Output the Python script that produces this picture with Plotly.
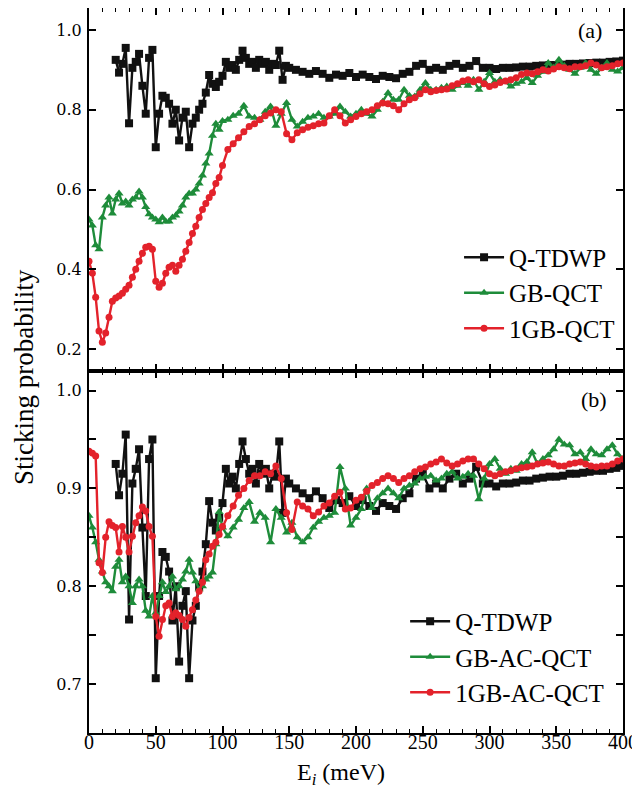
import numpy as np
import plotly.graph_objects as go

# ---------------- data ----------------
# Q-TDWP energies (meV): 20..150 step 2.5, then 155..400 step 5
E_q = list(np.arange(20, 150.01, 2.5)) + list(np.arange(155, 400.01, 5))
qtdwp = [0.925, 0.893, 0.915, 0.955, 0.766, 0.905, 0.92, 0.94, 0.86, 0.79,
         0.93, 0.95, 0.706, 0.79, 0.835, 0.83, 0.815, 0.765, 0.80, 0.723,
         0.78, 0.795, 0.706, 0.765, 0.78, 0.80, 0.815, 0.843, 0.887, 0.865,
         0.857, 0.87, 0.885, 0.92, 0.905, 0.912, 0.90, 0.925, 0.948, 0.93,
         0.915, 0.92, 0.905, 0.925, 0.915, 0.92, 0.90, 0.915, 0.912, 0.948,
         0.875, 0.91, 0.905,
         0.90, 0.895, 0.89, 0.897, 0.89, 0.88, 0.888, 0.885, 0.892, 0.882,
         0.888, 0.882, 0.877, 0.885, 0.882, 0.879, 0.89, 0.895, 0.91, 0.915,
         0.90, 0.905, 0.90, 0.91, 0.915, 0.905, 0.91, 0.922, 0.905, 0.905,
         0.902, 0.905, 0.905, 0.906, 0.908, 0.908, 0.91, 0.911, 0.912, 0.912,
         0.913, 0.915, 0.915, 0.916, 0.917, 0.918, 0.918, 0.92, 0.921, 0.923]

# QCT energies (meV): 0..100 step 2.5, then 104..400 step 4
E_c = list(np.arange(0, 100.01, 2.5)) + list(np.arange(104, 400.01, 4))

gb_qct = [0.525, 0.51, 0.46, 0.45, 0.53, 0.56, 0.58, 0.54, 0.575, 0.59,
          0.565, 0.57, 0.56, 0.575, 0.58, 0.595, 0.58, 0.556, 0.538, 0.53,
          0.525, 0.518, 0.53, 0.52, 0.52, 0.53, 0.535, 0.545, 0.56, 0.58,
          0.59, 0.59, 0.60, 0.615, 0.635, 0.665, 0.69, 0.735, 0.765, 0.75,
          0.772,
          0.775, 0.785, 0.79, 0.81, 0.783, 0.78, 0.775, 0.795, 0.808, 0.76,
          0.79, 0.817, 0.775, 0.758, 0.77, 0.78, 0.783, 0.79, 0.78, 0.783,
          0.79, 0.808, 0.795, 0.783, 0.79, 0.80, 0.79, 0.783, 0.80, 0.82,
          0.842, 0.825, 0.825, 0.85, 0.835, 0.833, 0.85, 0.867, 0.85, 0.85,
          0.855, 0.858, 0.85, 0.86, 0.867, 0.86, 0.875, 0.85, 0.87, 0.892,
          0.87, 0.875, 0.87, 0.858, 0.865, 0.87, 0.88, 0.867, 0.885, 0.895,
          0.917, 0.905, 0.925, 0.91, 0.90, 0.89, 0.905, 0.917, 0.90, 0.89,
          0.905, 0.917, 0.90, 0.896, 0.905]

gb1_qct = [0.42, 0.39, 0.33, 0.245, 0.217, 0.24, 0.28, 0.32, 0.328, 0.333,
           0.34, 0.35, 0.36, 0.38, 0.40, 0.42, 0.44, 0.455, 0.458, 0.45,
           0.37, 0.355, 0.365, 0.39, 0.405, 0.41, 0.395, 0.41, 0.425, 0.445,
           0.467, 0.49, 0.508, 0.53, 0.55, 0.565, 0.58, 0.592, 0.615, 0.63,
           0.66,
           0.70, 0.715, 0.73, 0.745, 0.758, 0.765, 0.775, 0.785, 0.792, 0.80,
           0.795, 0.74, 0.725, 0.742, 0.75, 0.756, 0.76, 0.765, 0.767, 0.785,
           0.80, 0.785, 0.767, 0.775, 0.783, 0.79, 0.795, 0.80, 0.81, 0.817,
           0.815, 0.81, 0.80, 0.815, 0.825, 0.83, 0.84, 0.85, 0.845, 0.848,
           0.85, 0.852, 0.86, 0.865, 0.872, 0.875, 0.87, 0.875, 0.865, 0.858,
           0.862, 0.868, 0.872, 0.875, 0.88, 0.888, 0.892, 0.89, 0.895, 0.90,
           0.897, 0.902, 0.908, 0.905, 0.903, 0.908, 0.908, 0.91, 0.917, 0.912,
           0.905, 0.908, 0.91, 0.915, 0.917]

gb_ac_qct = [0.872, 0.86, 0.845, 0.827, 0.815, 0.804, 0.80, 0.795, 0.82, 0.827,
             0.804, 0.81, 0.80, 0.783, 0.80, 0.807, 0.80, 0.775, 0.769, 0.79,
             0.773, 0.79, 0.804, 0.794, 0.80, 0.81, 0.797, 0.80, 0.807, 0.815,
             0.827, 0.814, 0.805, 0.797, 0.80, 0.807, 0.81, 0.814, 0.843, 0.876,
             0.86,
             0.851, 0.86, 0.868, 0.88, 0.886, 0.866, 0.875, 0.87, 0.845, 0.879,
             0.87, 0.855, 0.865, 0.85, 0.845, 0.85, 0.86, 0.866, 0.87, 0.872,
             0.875, 0.922, 0.90, 0.862, 0.87, 0.879, 0.90, 0.88, 0.89, 0.895,
             0.90, 0.895, 0.89, 0.90, 0.903, 0.905, 0.91, 0.912, 0.913, 0.908,
             0.91, 0.915, 0.917, 0.91, 0.912, 0.915, 0.913, 0.889, 0.91, 0.925,
             0.93, 0.92, 0.915, 0.92, 0.918, 0.925, 0.927, 0.937, 0.925, 0.93,
             0.934, 0.94, 0.95, 0.945, 0.944, 0.935, 0.937, 0.93, 0.94, 0.935,
             0.934, 0.94, 0.944, 0.935, 0.93]

gb1_ac_qct = [0.938, 0.936, 0.933, 0.824, 0.814, 0.85, 0.866, 0.862, 0.86, 0.835,
              0.861, 0.85, 0.835, 0.851, 0.865, 0.872, 0.881, 0.877, 0.861, 0.851,
              0.769, 0.749, 0.766, 0.78, 0.783, 0.769, 0.773, 0.77, 0.766, 0.759,
              0.768, 0.776, 0.786, 0.795, 0.804, 0.827, 0.833, 0.841, 0.845, 0.853,
              0.861,
              0.872, 0.882, 0.893, 0.90, 0.908, 0.913, 0.913, 0.917, 0.915, 0.923,
              0.91, 0.875, 0.858, 0.886, 0.882, 0.879, 0.872, 0.876, 0.882, 0.885,
              0.892, 0.896, 0.879, 0.88, 0.888, 0.891, 0.897, 0.903, 0.906, 0.91,
              0.913, 0.91, 0.906, 0.91, 0.913, 0.917, 0.92, 0.922, 0.925, 0.927,
              0.93, 0.926, 0.923, 0.925, 0.928, 0.93, 0.93, 0.925, 0.92, 0.915,
              0.913, 0.915, 0.917, 0.918, 0.92, 0.921, 0.922, 0.923, 0.925, 0.926,
              0.927, 0.925, 0.923, 0.923, 0.925, 0.926, 0.927, 0.925, 0.923, 0.922,
              0.923, 0.923, 0.925, 0.928, 0.93]

for name, arr, ex in [("qtdwp", qtdwp, E_q), ("gb_qct", gb_qct, E_c), ("gb1_qct", gb1_qct, E_c),
                      ("gb_ac", gb_ac_qct, E_c), ("gb1_ac", gb1_ac_qct, E_c)]:
    assert len(arr) == len(ex), (name, len(arr), len(ex))

top_labels = ["Q-TDWP", "GB-QCT", "1GB-QCT"]
bot_labels = ["Q-TDWP", "GB-AC-QCT", "1GB-AC-QCT"]

# ---------------- style ----------------
BLACK = "#111111"
GREEN = "#1e8c3a"
RED = "#e3222b"
SERIF = "Liberation Serif"

# the page body has an 8px default margin; size the figure to compensate
W, H = 632, 781
L, R, T, B = 81, 17, 0, 56
PW, PH = W - L - R, H - T - B          # 534 x 725
split = (733 - 371) / 725


def px(xp):   # page x -> paper x
    return (xp - 89) / PW


def py(yp):   # page y -> paper y
    return (733 - yp) / PH


fig = go.Figure()


def add(x, y, name, color, symbol, size, xa, ya, legend, lw=2.4):
    fig.add_trace(go.Scatter(
        x=x, y=y, name=name, mode="lines+markers",
        line=dict(color=color, width=lw),
        marker=dict(color=color, symbol=symbol, size=size),
        xaxis=xa, yaxis=ya, legend=legend))


# top panel (a)
add(E_q, qtdwp, top_labels[0], BLACK, "square", 8, "x2", "y", "legend")
add(E_c, gb_qct, top_labels[1], GREEN, "triangle-up", 8, "x2", "y", "legend")
add(E_c, gb1_qct, top_labels[2], RED, "circle", 7, "x2", "y", "legend")
# bottom panel (b)
add(E_q, qtdwp, bot_labels[0], BLACK, "square", 8, "x", "y2", "legend2")
add(E_c, gb_ac_qct, bot_labels[1], GREEN, "triangle-up", 8, "x", "y2", "legend2")
add(E_c, gb1_ac_qct, bot_labels[2], RED, "circle", 7, "x", "y2", "legend2")

axis_common = dict(showline=True, linecolor="black", linewidth=2, mirror="ticks",
                   ticks="inside", ticklen=7, tickwidth=1.5, tickcolor="black",
                   showgrid=False, zeroline=False, automargin=False)

fig.update_layout(
    width=W, height=H,
    margin=dict(l=L, r=R, t=T, b=B),
    paper_bgcolor="white", plot_bgcolor="white",
    font=dict(family=SERIF, color="black"),
    xaxis=dict(domain=[0, 1], anchor="y2", range=[0, 400], dtick=50,
               tickfont=dict(family=SERIF, size=20), ticklabelstandoff=-10,
               minor=dict(dtick=10, ticks="inside", ticklen=4, tickwidth=1.2, tickcolor="black"),
               **axis_common),
    xaxis2=dict(domain=[0, 1], anchor="y", matches="x", range=[0, 400], dtick=50,
                showticklabels=False,
                minor=dict(dtick=10, ticks="inside", ticklen=4, tickwidth=1.2, tickcolor="black"),
                **axis_common),
    yaxis=dict(domain=[split, 1], anchor="x2", range=[0.145, 1.055],
               tickvals=[0.2, 0.4, 0.6, 0.8, 1.0], tickformat=".1f",
               tickfont=dict(family="DejaVu Serif", size=16), ticklabelstandoff=2,
               **axis_common),
    yaxis2=dict(domain=[0, split], anchor="x", range=[0.65, 1.02],
                tickvals=[0.7, 0.8, 0.9, 1.0], tickformat=".1f",
                tickfont=dict(family="DejaVu Serif", size=16), ticklabelstandoff=2,
                minor=dict(dtick=0.05, ticks="inside", ticklen=7, tickwidth=1.5, tickcolor="black"),
                **axis_common),
    legend=dict(x=0.693, y=0.6876, xanchor="left", yanchor="top",
                font=dict(family=SERIF, size=25), bgcolor="rgba(0,0,0,0)",
                itemwidth=40, tracegroupgap=0),
    legend2=dict(x=0.592, y=0.1855, xanchor="left", yanchor="top",
                 font=dict(family=SERIF, size=25), bgcolor="rgba(0,0,0,0)",
                 itemwidth=40, tracegroupgap=0),
    showlegend=True,
    annotations=[
        dict(text="(a)", xref="paper", yref="paper", x=px(590), y=py(30),
             showarrow=False, font=dict(family=SERIF, size=22), xanchor="center", yanchor="middle"),
        dict(text="(b)", xref="paper", yref="paper", x=px(594), y=py(399),
             showarrow=False, font=dict(family=SERIF, size=22), xanchor="center", yanchor="middle"),
        dict(text="Sticking probability", xref="paper", yref="paper",
             x=px(24), y=py(377), textangle=-90,
             showarrow=False, font=dict(family=SERIF, size=27), xanchor="center", yanchor="middle"),
        dict(text="E<sub><i>i</i></sub> (meV)", xref="paper", yref="paper",
             x=px(341), y=py(774),
             showarrow=False, font=dict(family=SERIF, size=24), xanchor="center", yanchor="middle"),
    ],
)

fig.write_html("out.html")
